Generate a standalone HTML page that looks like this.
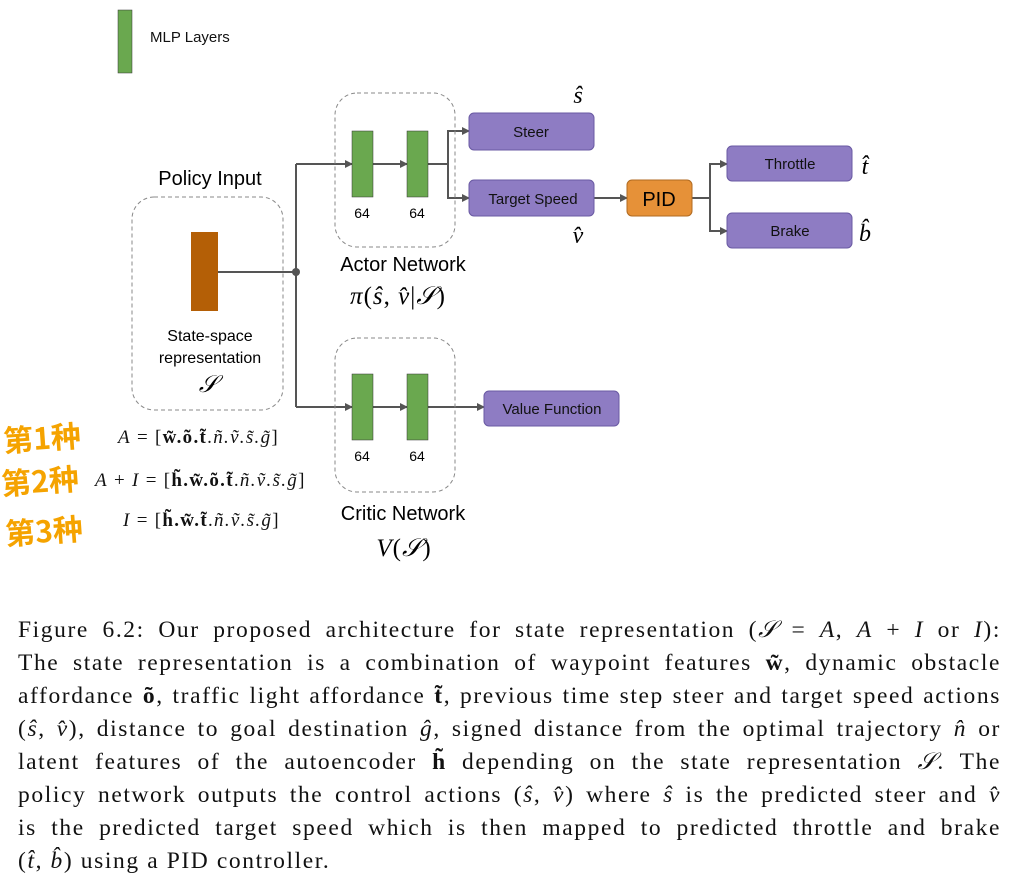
<!DOCTYPE html>
<html><head><meta charset="utf-8"><style>
body{margin:0;background:#fff;width:1014px;height:889px;overflow:hidden;position:relative}
svg{position:absolute;left:0;top:0}
.cap{position:absolute;left:18px;width:983px;font-family:"Liberation Serif",serif;font-size:23.5px;letter-spacing:1.6px;color:#111;text-align:justify;text-align-last:justify;white-space:nowrap;line-height:33px}
.cap.last{text-align-last:left}
i{font-style:italic}
</style></head><body>
<svg width="1014" height="600" font-family="Liberation Sans, sans-serif">
<defs><marker id="ar" markerWidth="8" markerHeight="8" refX="7" refY="4" orient="auto" markerUnits="userSpaceOnUse"><path d="M0,0L8,4L0,8z" fill="#555"/></marker></defs>
<g>
<rect x="118" y="10" width="14" height="63" fill="#6aa84f" stroke="#333" stroke-width="0.5"/>
<text x="150" y="42" font-size="15" fill="#111">MLP Layers</text></g>
<text x="210" y="185" font-size="20" text-anchor="middle">Policy Input</text>
<rect x="132" y="197" width="151" height="213" rx="22" fill="none" stroke="#888" stroke-dasharray="4,3"/>
<rect x="191" y="232" width="27" height="79" fill="#b45f06"/>
<text x="210" y="341" font-size="16" text-anchor="middle">State-space</text>
<text x="210" y="363" font-size="16" text-anchor="middle">representation</text>
<text x="208" y="392" font-size="24" text-anchor="middle" font-family="Liberation Serif,serif" font-style="italic">𝒮</text>
<g stroke="#555" stroke-width="2" fill="none">
<path d="M218,272H296"/><path d="M296,164V407"/>
<path d="M296,164H352" marker-end="url(#ar)"/><path d="M372,164H407" marker-end="url(#ar)"/>
<path d="M296,407H352" marker-end="url(#ar)"/><path d="M372,407H407" marker-end="url(#ar)"/>
<path d="M428,164H448V131H469" marker-end="url(#ar)"/><path d="M448,164V198H469" marker-end="url(#ar)"/>
<path d="M428,407H484" marker-end="url(#ar)"/>
<path d="M594,198H627" marker-end="url(#ar)"/>
<path d="M692,198H710V164H727" marker-end="url(#ar)"/><path d="M710,198V231H727" marker-end="url(#ar)"/>
</g>
<circle cx="296" cy="272" r="4" fill="#555"/>
<rect x="335" y="93" width="120" height="154" rx="22" fill="none" stroke="#888" stroke-dasharray="4,3"/>
<rect x="335" y="338" width="120" height="154" rx="22" fill="none" stroke="#888" stroke-dasharray="4,3"/>
<g fill="#6aa84f" stroke="#333" stroke-width="0.5">
<rect x="352" y="131" width="21" height="66"/><rect x="407" y="131" width="21" height="66"/>
<rect x="352" y="374" width="21" height="66"/><rect x="407" y="374" width="21" height="66"/></g>
<g font-size="14" text-anchor="middle"><text x="362" y="218">64</text><text x="417" y="218">64</text><text x="362" y="461">64</text><text x="417" y="461">64</text></g>
<text x="403" y="271" font-size="20" text-anchor="middle">Actor Network</text>
<text x="398" y="304" font-size="25" text-anchor="middle" font-family="Liberation Serif,serif" letter-spacing="1"><tspan font-style="italic">π</tspan>(<tspan font-style="italic">ŝ</tspan>, <tspan font-style="italic">v̂</tspan>|<tspan font-style="italic">𝒮</tspan>)</text>
<text x="403" y="520" font-size="20" text-anchor="middle">Critic Network</text>
<text x="404" y="556" font-size="25" text-anchor="middle" font-family="Liberation Serif,serif" letter-spacing="1"><tspan font-style="italic">V</tspan>(<tspan font-style="italic">𝒮</tspan>)</text>
<g stroke="#6a5aa3" stroke-width="1">
<rect x="469" y="113" width="125" height="37" rx="5" fill="#8e7cc3"/>
<rect x="469" y="180" width="125" height="36" rx="5" fill="#8e7cc3"/>
<rect x="727" y="146" width="125" height="35" rx="5" fill="#8e7cc3"/>
<rect x="727" y="213" width="125" height="35" rx="5" fill="#8e7cc3"/>
<rect x="484" y="391" width="135" height="35" rx="5" fill="#8e7cc3"/>
<rect x="627" y="180" width="65" height="36" rx="5" fill="#e69138" stroke="#b06a20"/></g>
<g font-size="15" text-anchor="middle" fill="#111">
<text x="531" y="137">Steer</text><text x="533" y="204">Target Speed</text>
<text x="790" y="169">Throttle</text><text x="790" y="236">Brake</text>
<text x="552" y="414">Value Function</text></g>
<text x="659" y="206" font-size="20" text-anchor="middle">PID</text>
<g font-family="Liberation Serif,serif" font-style="italic" font-size="24" text-anchor="middle">
<text x="578" y="103">ŝ</text><text x="578" y="243">v̂</text><text x="865" y="174">t̂</text><text x="865" y="241">b̂</text></g>
<g font-family="Liberation Serif,serif" font-size="19" fill="#111" letter-spacing="1.3">
<text x="118" y="443"><tspan font-style="italic">A</tspan> = [<tspan font-weight="bold">w̃.õ.t̃</tspan>.<tspan font-style="italic">ñ.ṽ.s̃.g̃</tspan>]</text>
<text x="95" y="486"><tspan font-style="italic">A</tspan> + <tspan font-style="italic">I</tspan> = [<tspan font-weight="bold">h̃.w̃.õ.t̃</tspan>.<tspan font-style="italic">ñ.ṽ.s̃.g̃</tspan>]</text>
<text x="123" y="526"><tspan font-style="italic">I</tspan> = [<tspan font-weight="bold">h̃.w̃.t̃</tspan>.<tspan font-style="italic">ñ.ṽ.s̃.g̃</tspan>]</text></g>
<g font-family="Noto Sans CJK SC, sans-serif" font-size="30" fill="#f5a300" font-weight="bold">
<text x="4" y="452" transform="rotate(-4 4 452)">第1种</text>
<text x="2" y="495" transform="rotate(-4 2 495)">第2种</text>
<text x="6" y="545" transform="rotate(-4 6 545)">第3种</text></g>
</svg>
<div>
<div class="cap" style="top:614px">Figure 6.2: Our proposed architecture for state representation (<i>𝒮</i> = <i>A</i>, <i>A</i> + <i>I</i> or <i>I</i>):</div>
<div class="cap" style="top:647px">The state representation is a combination of waypoint features <b>w̃</b>, dynamic obstacle</div>
<div class="cap" style="top:680px">affordance <b>õ</b>, traffic light affordance <b>t̃</b>, previous time step steer and target speed actions</div>
<div class="cap" style="top:713px">(<i>ŝ</i>, <i>v̂</i>), distance to goal destination <i>ĝ</i>, signed distance from the optimal trajectory <i>n̂</i> or</div>
<div class="cap" style="top:746px">latent features of the autoencoder <b>h̃</b> depending on the state representation <i>𝒮</i>. The</div>
<div class="cap" style="top:779px">policy network outputs the control actions (<i>ŝ</i>, <i>v̂</i>) where <i>ŝ</i> is the predicted steer and <i>v̂</i></div>
<div class="cap" style="top:812px">is the predicted target speed which is then mapped to predicted throttle and brake</div>
<div class="cap last" style="top:845px">(<i>t̂</i>, <i>b̂</i>) using a PID controller.</div>
</div>
</body></html>
